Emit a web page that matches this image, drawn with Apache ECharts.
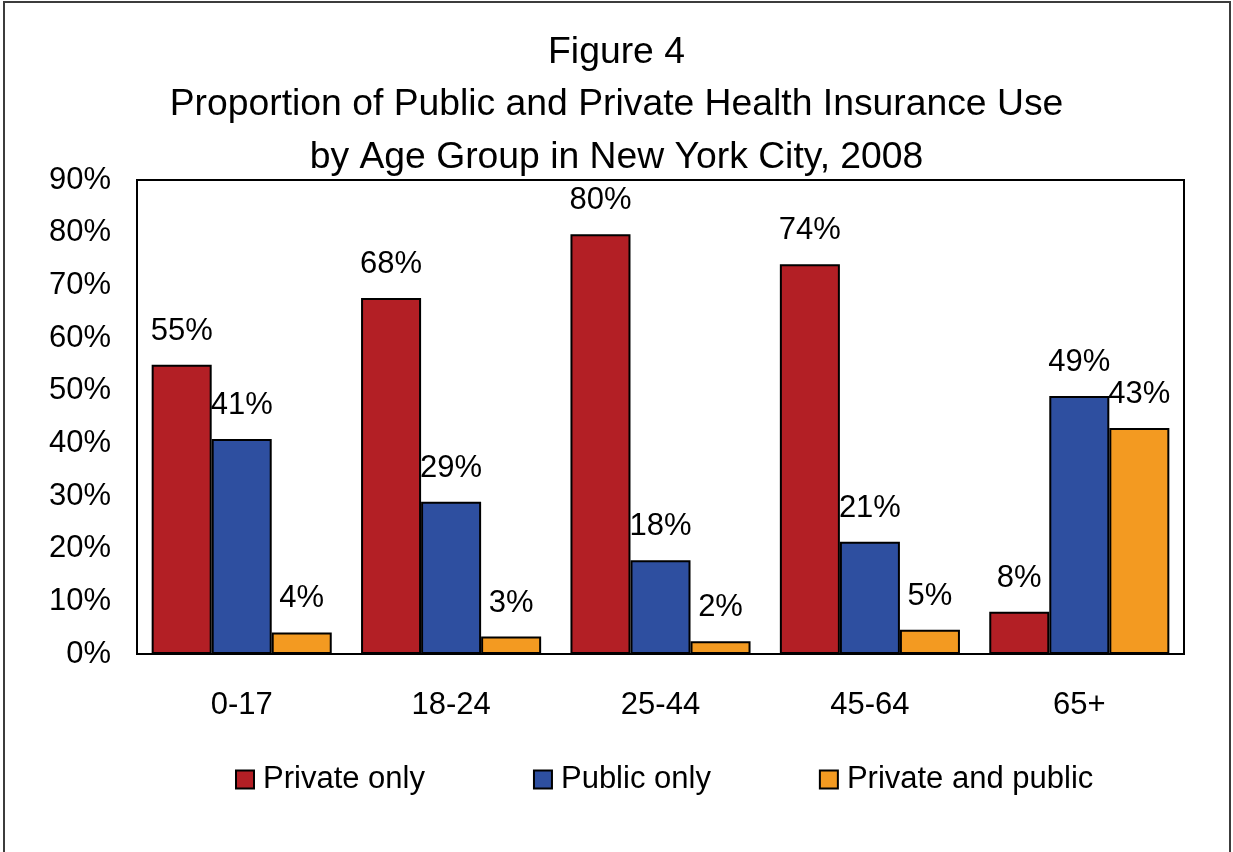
<!DOCTYPE html>
<html>
<head>
<meta charset="utf-8">
<script src="https://cdn.jsdelivr.net/npm/echarts@6/dist/echarts.min.js"></script>
<style>
html,body{margin:0;padding:0;background:#fff;}
#c{width:1233px;height:852px;}
</style>
</head>
<body>
<div id="c"></div>
<script>
const categories = ['0-17', '18-24', '25-44', '45-64', '65+'];
const privateOnly = [54.9, 67.6, 79.7, 74.0, 8.0];
const publicOnly = [40.8, 28.9, 17.8, 21.3, 49.0];
const privateAndPublic = [4.1, 3.3, 2.4, 4.6, 42.9];
const seriesNames = ['Private only', 'Public only', 'Private and public'];
const yTicks = [0, 10, 20, 30, 40, 50, 60, 70, 80, 90];

const FONT = '"Liberation Sans", Arial, sans-serif';
const colors = ['#B31F25', '#2E4FA0', '#F39A21'];
const chart = echarts.init(document.getElementById('c'), null, {renderer: 'canvas'});

function mkSeries(name, data, color) {
  return {
    name: name,
    type: 'bar',
    data: data,
    barGap: '0%',
    barCategoryGap: '14%',
    itemStyle: {color: color, borderColor: '#000', borderWidth: 2},
    label: {
      show: true,
      position: 'top',
      distance: 18,
      formatter: p => Math.round(p.value) + '%',
      fontFamily: FONT,
      fontSize: 31,
      color: '#000'
    }
  };
}

chart.setOption({
  animation: false,
  backgroundColor: '#fff',
  textStyle: {fontFamily: FONT},
  title: {
    text: 'Figure 4\nProportion of Public and Private Health Insurance Use\nby Age Group in New York City, 2008',
    left: 'center',
    top: 21,
    textStyle: {fontFamily: FONT, fontSize: 37.3, fontWeight: 'normal', color: '#000', lineHeight: 52.5}
  },
  legend: {
    data: seriesNames,
    left: 235,
    top: 764,
    padding: 0,
    icon: 'rect',
    itemWidth: 18,
    itemHeight: 18,
    itemGap: 108,
    textStyle: {fontFamily: FONT, fontSize: 31, color: '#000', padding: [0, 0, 0, 4]},
    itemStyle: {borderColor: '#000', borderWidth: 2}
  },
  grid: {
    left: 137, right: 49, top: 180, bottom: 198,
    show: true, borderColor: '#000', borderWidth: 2, containLabel: false
  },
  xAxis: {
    type: 'category',
    data: categories,
    axisLine: {show: true, lineStyle: {color: '#000', width: 2}},
    axisTick: {show: false},
    axisLabel: {fontFamily: FONT, fontSize: 31, color: '#000', margin: 36}
  },
  yAxis: {
    type: 'value',
    min: yTicks[0],
    max: yTicks[yTicks.length - 1],
    interval: 10,
    splitLine: {show: false},
    axisLine: {show: true, lineStyle: {color: '#000', width: 2}},
    axisTick: {show: false},
    axisLabel: {fontFamily: FONT, fontSize: 31, color: '#000', margin: 26, formatter: v => v + '%'}
  },
  graphic: [{
    type: 'rect',
    shape: {x: 4, y: 2, width: 1226, height: 870},
    style: {fill: 'none', stroke: '#3c3c3c', lineWidth: 2},
    silent: true
  }],
  series: [
    mkSeries(seriesNames[0], privateOnly, colors[0]),
    mkSeries(seriesNames[1], publicOnly, colors[1]),
    mkSeries(seriesNames[2], privateAndPublic, colors[2])
  ]
});
</script>
</body>
</html>
